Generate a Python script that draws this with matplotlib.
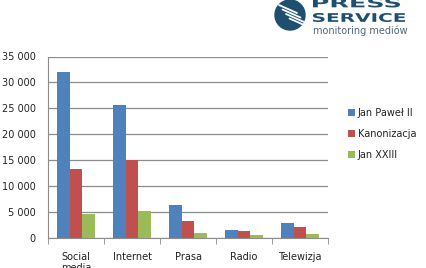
import matplotlib
matplotlib.use("Agg")
import matplotlib.pyplot as plt
import numpy as np
from matplotlib.patches import Circle, PathPatch
from matplotlib.textpath import TextPath
from matplotlib.font_manager import FontProperties
from matplotlib.transforms import Affine2D

categories = ["Social\nmedia", "Internet", "Prasa", "Radio", "Telewizja"]
series_names = ["Jan Paweł II", "Kanonizacja", "Jan XXIII"]
jan_pawel = [32000, 25600, 6300, 1600, 2800]
kanonizacja = [13400, 15000, 3300, 1400, 2100]
jan_xxiii = [4700, 5300, 900, 600, 700]
colors = ["#4F81BD", "#C0504D", "#9BBB59"]
yticks = [0, 5000, 10000, 15000, 20000, 25000, 30000, 35000]
ytick_labels = ["0", "5 000", "10 000", "15 000", "20 000", "25 000", "30 000", "35 000"]

W, H = 426, 268
fig = plt.figure(figsize=(W / 100, H / 100), dpi=100)
ax = fig.add_axes([48 / W, 1 - 238 / H, (328 - 48) / W, (238 - 56.5) / H])

x = np.arange(len(categories))
bw = 0.225
for i, (vals, c, name) in enumerate(zip([jan_pawel, kanonizacja, jan_xxiii], colors, series_names)):
    ax.bar(x + (i - 1) * bw, vals, width=bw, color=c, label=name, zorder=3)

fs = 7
ax.set_xlim(-0.5, len(categories) - 0.5)
ax.set_ylim(0, 35000)
ax.set_yticks(yticks)
ax.set_yticklabels(ytick_labels, fontsize=fs, color="#222222")
ax.yaxis.grid(True, color="#8c8c8c", linewidth=0.9, zorder=0)
ax.set_xticks(x)
ax.set_xticklabels(categories, fontsize=fs, color="#222222", va="top")
ax.set_xticks(np.arange(len(categories) + 1) - 0.5, minor=True)
ax.tick_params(axis="x", which="major", length=0, pad=10)
ax.tick_params(axis="x", which="minor", length=4, color="#8c8c8c")
ax.tick_params(axis="y", length=0, pad=9)
for s in ["top", "right"]:
    ax.spines[s].set_visible(False)
ax.spines["left"].set_color("#8c8c8c")
ax.spines["bottom"].set_color("#8c8c8c")

leg = fig.legend(loc="upper left", bbox_to_anchor=(339 / W, 1 - 99 / H), frameon=False,
                 fontsize=fs, handlelength=0.75, handleheight=0.75, handletextpad=0.3,
                 labelspacing=1.13)
for t in leg.get_texts():
    t.set_color("#222222")

# logo
logo_color = "#1E4F6E"
lax = fig.add_axes([0, 0, 1, 1], zorder=-1)
lax.set_xlim(0, W)
lax.set_ylim(H, 0)
lax.axis("off")


def fit_text(s, x0, y0, x1, y1, color, weight="bold"):
    tp = TextPath((0, 0), s, size=10, prop=FontProperties(family="DejaVu Sans", weight=weight))
    ext = tp.get_extents()
    sx = (x1 - x0) / ext.width
    sy = (y1 - y0) / ext.height
    tr = Affine2D().translate(-ext.x0, -ext.y0).scale(sx, -sy).translate(x0, y1)
    lax.add_patch(PathPatch(tr.transform_path(tp), color=color, lw=0))


lax.add_patch(Circle((290, 15), 15, color=logo_color))
for k in range(4):
    lax.plot([279 + k * 3.5, 297 + k * 3.5], [5 + k * 4.5, 13 + k * 4.5], color="white", lw=1.3,
             solid_capstyle="round")
fit_text("PRESS", 313, -2, 400, 7.5, logo_color)
fit_text("SERVICE", 313, 13, 405, 22, logo_color)
lax.text(313, 31, "monitoring mediów", fontsize=7, color="#51677a", va="center", ha="left")

fig.savefig("out.png", dpi=100)
